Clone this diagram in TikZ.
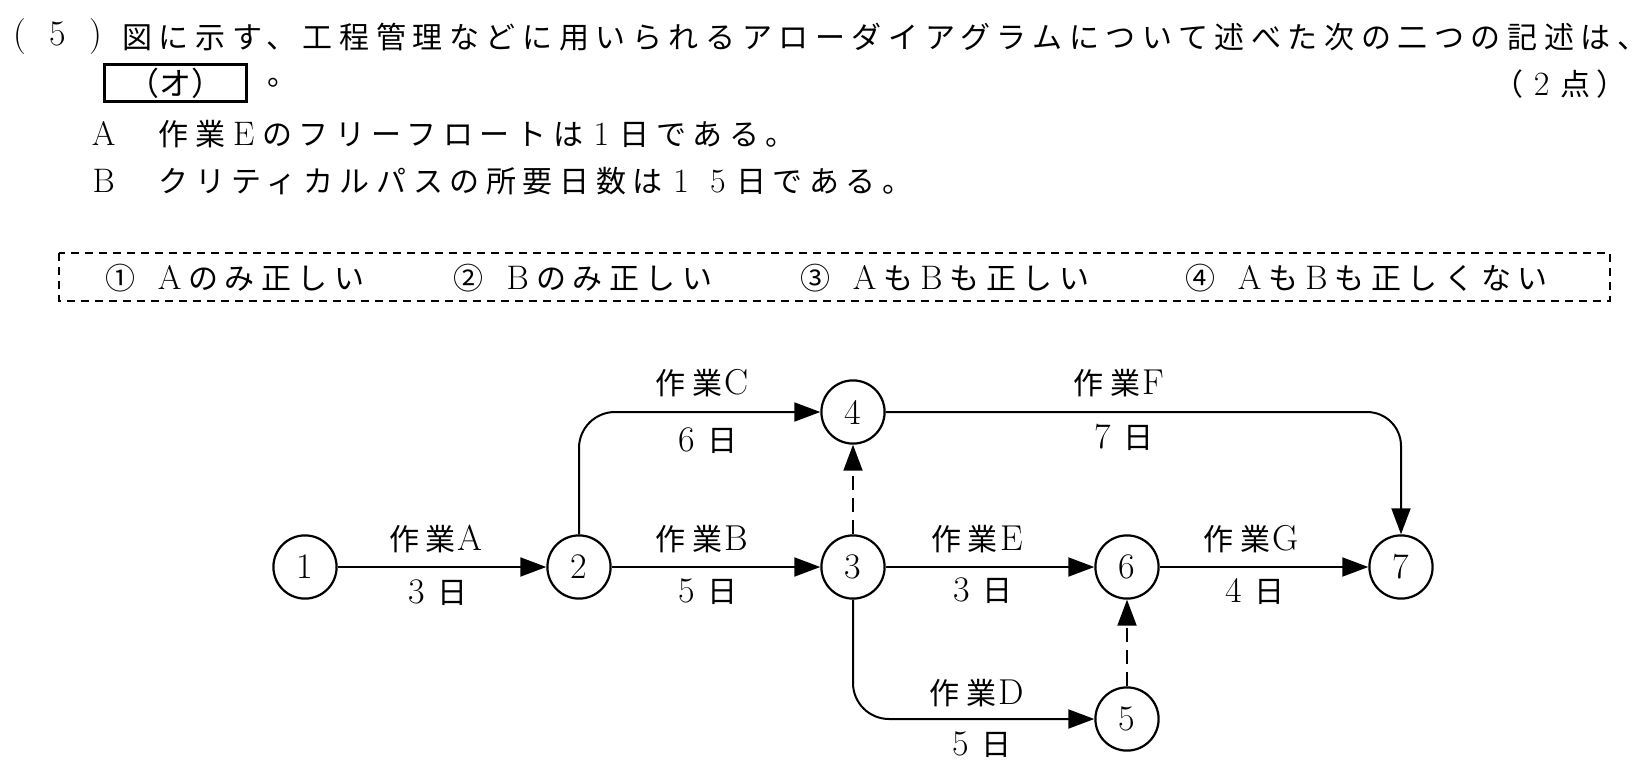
\documentclass[tikz,border=0pt]{standalone}
\usepackage{fontspec}
\usetikzlibrary{arrows.meta}
\newfontfamily\jp[LetterSpace=22]{Noto Sans CJK JP}
\newfontfamily\jpn{Noto Sans CJK JP}
\newcommand\fw[1]{\makebox[18.35pt]{\rmfamily\fontsize{17}{20}\selectfont #1}}
\newcommand\lat[1]{{\rmfamily\fontsize{18}{20}\selectfont #1}}
\tikzset{
  txt/.style={inner sep=0pt, anchor=west, font=\jp\fontsize{15}{18}\selectfont},
  lbl/.style={inner sep=0pt, font=\jp\fontsize{15}{18}\selectfont},
  ev/.style={circle, draw, line width=1.1pt, minimum size=31.6pt, inner sep=0pt, font=\rmfamily\fontsize{18}{20}\selectfont},
  arr/.style={line width=1pt, -{Triangle[length=13pt,width=9.5pt]}},
  dum/.style={arr, dash pattern=on 7pt off 4pt},
  answerbox/.style={draw, line width=1.6pt, minimum width=71pt, minimum height=18.5pt, inner sep=0pt, font=\jpn\fontsize{16}{18}\selectfont},
  choicebox/.style={line width=1pt, dash pattern=on 4pt off 3pt},
}
\begin{document}
\begin{tikzpicture}[x=0.5pt,y=-0.5pt]
\useasboundingbox (0,0) rectangle (1648,777);
% question text
\node[txt, font=\rmfamily\fontsize{18}{20}\selectfont] (qn) at (0,37) {\makebox[19pt]{(}\makebox[19pt]{5}\makebox[19pt]{)}};
\node[txt] (t1) at (122,37) {図に示す、工程管理などに用いられるアローダイアグラムについて述べた次の二つの記述は、};
\node[answerbox] (ans) at (175.5,83) {（オ）};
\node[txt] (maru) at (267,83) {。};
\node[txt] (pts) at (1493,84) {（\fw{2}点）};
\node[txt] (sa) at (85,134) {\fw{A}\hspace{18.35pt}作業\fw{E}のフリーフロートは\fw{1}日である。};
\node[txt] (sb) at (85,181) {\fw{B}\hspace{18.35pt}クリティカルパスの所要日数は\fw{1}\fw{5}日である。};
% choices
\draw[choicebox] (59,253) rectangle (1610,301);
\node[txt] (c1) at (105,278) {①\hspace{8pt}\fw{A}のみ正しい};
\node[txt] (c2) at (453,278) {②\hspace{8pt}\fw{B}のみ正しい};
\node[txt] (c3) at (800,278) {③\hspace{8pt}\fw{A}も\fw{B}も正しい};
\node[txt] (c4) at (1185,278) {④\hspace{8pt}\fw{A}も\fw{B}も正しくない};
% arrow diagram
\node[ev] (n1) at (305,567) {1};
\node[ev] (n2) at (579,567) {2};
\node[ev] (n3) at (853,567) {3};
\node[ev] (n4) at (853,412) {4};
\node[ev] (n6) at (1127,567) {6};
\node[ev] (n7) at (1401,567) {7};
\node[ev] (n5) at (1127,719) {5};
\draw[arr] (n1) -- (n2);
\draw[arr] (n2) -- (n3);
\draw[arr] (n3) -- (n6);
\draw[arr] (n6) -- (n7);
\draw[arr, rounded corners=18pt] (n2.north) |- (n4.west);
\draw[arr, rounded corners=17pt] (n4.east) -| (n7.north);
\draw[arr, rounded corners=18pt] (n3.south) |- (n5.west);
\draw[dum] (n3.north) -- (n4.south);
\draw[dum] (n5.north) -- (n6.south);
% labels
\node[lbl] (la) at (436,539) {作業\hspace{1pt}\lat{A}};
\node[lbl] (da) at (438,593) {\lat{3}\hspace{6pt}日};
\node[lbl] (lb) at (702,539) {作業\hspace{1pt}\lat{B}};
\node[lbl] (db) at (708,592) {\lat{5}\hspace{6pt}日};
\node[lbl] (lc) at (702,383) {作業\hspace{1pt}\lat{C}};
\node[lbl] (dc) at (708,441) {\lat{6}\hspace{6pt}日};
\node[lbl] (le) at (977,539) {作業\hspace{1pt}\lat{E}};
\node[lbl] (de) at (983,591) {\lat{3}\hspace{6pt}日};
\node[lbl] (lg) at (1251,539) {作業\hspace{1pt}\lat{G}};
\node[lbl] (dg) at (1255,591) {\lat{4}\hspace{6pt}日};
\node[lbl] (lf) at (1119,383) {作業\hspace{1pt}\lat{F}};
\node[lbl] (df) at (1124,437) {\lat{7}\hspace{6pt}日};
\node[lbl] (ld) at (977,693) {作業\hspace{1pt}\lat{D}};
\node[lbl] (dd) at (982,745) {\lat{5}\hspace{6pt}日};
\end{tikzpicture}
\end{document}
